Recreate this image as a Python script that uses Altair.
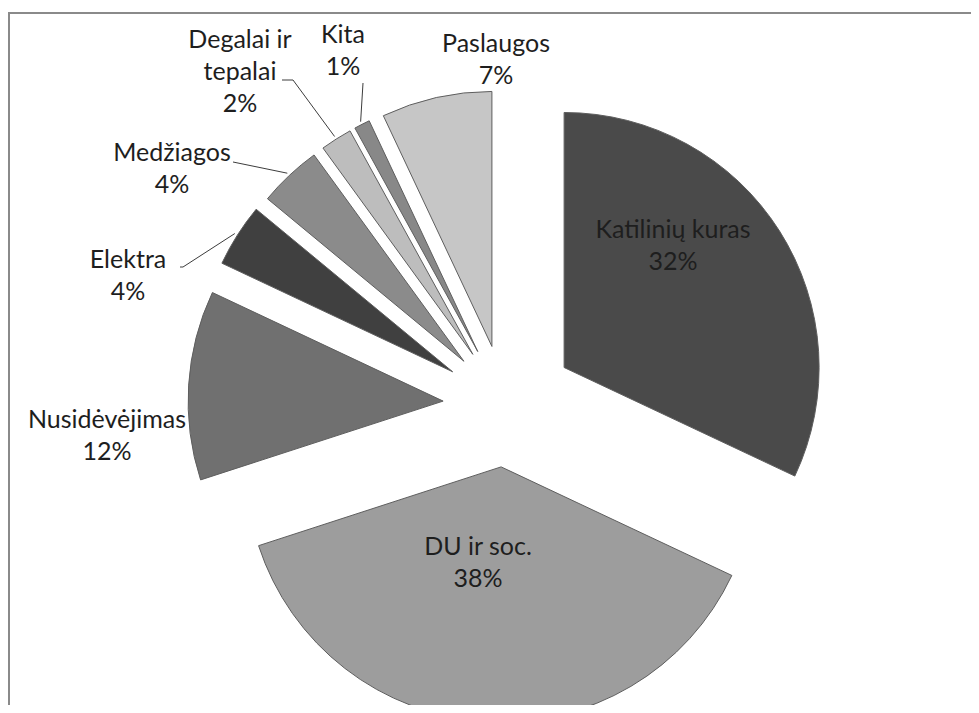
import math
import altair as alt
import pandas as pd

# ---- data -------------------------------------------------------------
categories = ["Katilinių kuras", "DU ir soc.", "Nusidėvėjimas", "Elektra",
              "Medžiagos", "Degalai ir tepalai", "Kita", "Paslaugos"]
values = [32, 38, 12, 4, 4, 2, 1, 7]
label_names = ["Katilinių kuras", "DU ir soc.", "Nusidėvėjimas", "Elektra",
               "Medžiagos", "Degalai ir\ntepalai", "Kita", "Paslaugos"]

# ---- style / layout ---------------------------------------------------
colors = ["#4a4a4a", "#9d9d9d", "#707070", "#404040",
          "#8b8b8b", "#bdbdbd", "#888888", "#c6c6c6"]
explode = [70, 62, 62, 62, 60, 60, 60, 60]      # px slice explosion
R = 255                                          # pie radius (px)
W, H = 963, 697                                  # chart size
CX, CY = 497, 397                                # pie centre in chart px

# first-line centres of the labels, relative to pie centre (px, y up)
label_pos = {
    "Katilinių kuras": (168, 175),
    "DU ir soc.": (-27, -142),
    "Nusidėvėjimas": (-398, -15),
    "Elektra": (-377, 145),
    "Medžiagos": (-333, 252),
    "Degalai ir tepalai": (-265, 365),
    "Kita": (-162, 370),
    "Paslaugos": (-9, 361),
}
# leader lines: points near the label (px, y up); last point goes to slice
leader_pts = {
    "Degalai ir tepalai": [(-223, 325), (-212, 325)],
    "Kita": [(-142, 322)],
    "Medžiagos": [(-272, 243)],
    "Elektra": [(-325, 138), (-322, 138)],
}

# ---- derived table ----------------------------------------------------
total = sum(values)
rows, cum = [], 0.0
for cat, v, ex in zip(categories, values, explode):
    start, end = cum, cum + v
    cum = end
    mid = (start + end) / 2 / total * 2 * math.pi
    rows.append({"cat": cat, "value": v, "start": start, "end": end,
                 "ex": ex * math.sin(mid), "ey": ex * math.cos(mid), "mid": mid})
df = pd.DataFrame(rows)

lab_rows = []
for cat, name, v in zip(categories, label_names, values):
    lx, ly = label_pos[cat]
    lab_rows.append({"cat": cat, "lx": lx, "ly": ly, "txt": f"{name}\n{v}%"})
lab_df = pd.DataFrame(lab_rows)

lead_rows = []
for cat, pts in leader_pts.items():
    r = df[df.cat == cat].iloc[0]
    sx = r.ex + (R + 3) * math.sin(r.mid)
    sy = r.ey + (R + 3) * math.cos(r.mid)
    allp = pts + [(sx, sy)]
    for i, (px, py) in enumerate(allp):
        lead_rows.append({"cat": cat, "o": i, "px": px, "py": py})
lead_df = pd.DataFrame(lead_rows)

xs = alt.Scale(domain=[-CX, W - CX], range=[0, W])
ys = alt.Scale(domain=[-(H - CY), CY], range=[H, 0])

arcs = alt.Chart(df).mark_arc(outerRadius=R, stroke="#5e5e5e", strokeWidth=1,
                              clip=True).encode(
    x=alt.X("ex:Q", scale=xs, axis=None, stack=None),
    y=alt.Y("ey:Q", scale=ys, axis=None, stack=None),
    theta=alt.Theta("start:Q", scale=alt.Scale(domain=[0, total]), stack=None),
    theta2="end:Q",
    color=alt.Color("cat:N", scale=alt.Scale(domain=categories, range=colors),
                    legend=None),
)

leaders = alt.Chart(lead_df).mark_line(color="#3c3c3c", strokeWidth=1).encode(
    x=alt.X("px:Q", scale=xs, axis=None),
    y=alt.Y("py:Q", scale=ys, axis=None),
    detail="cat:N",
    order="o:Q",
)

labels = alt.Chart(lab_df).mark_text(
    lineBreak="\n", font="Lato", fontSize=25, lineHeight=32,
    color="#1e1e1e", align="center", baseline="middle",
).encode(
    x=alt.X("lx:Q", scale=xs, axis=None),
    y=alt.Y("ly:Q", scale=ys, axis=None),
    text="txt:N",
)

frame_df = pd.DataFrame({"a": [0]})
top_line = alt.Chart(frame_df).mark_rule(color="#8a8a8a", strokeWidth=2).encode(
    x=alt.value(1), x2=alt.value(W), y=alt.value(5))
left_line = alt.Chart(frame_df).mark_rule(color="#8a8a8a", strokeWidth=2).encode(
    x=alt.value(1), y=alt.value(4), y2=alt.value(H))

chart = alt.layer(arcs, leaders, labels, top_line, left_line).properties(
    width=W, height=H,
    autosize=alt.AutoSizeParams(type="none"),
    padding=0,
).configure_view(stroke=None)

chart.save("out.html", embed_options={"renderer": "svg", "actions": False})
